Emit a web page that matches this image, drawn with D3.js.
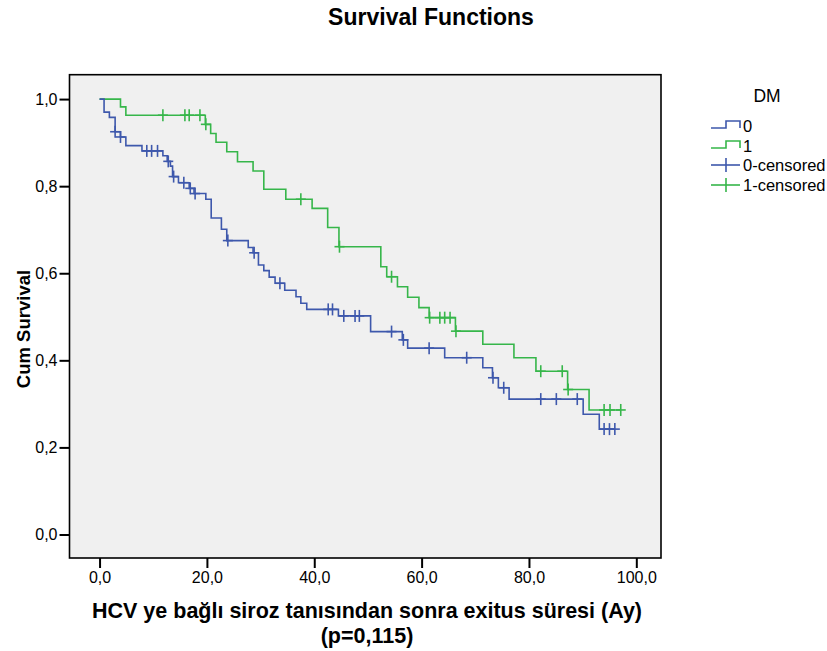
<!DOCTYPE html>
<html>
<head>
<meta charset="utf-8">
<script src="https://cdn.jsdelivr.net/npm/d3@7"></script>
<style>
  body { margin: 0; background: #fff; }
  text { font-family: Arial, "Liberation Sans", sans-serif; }
</style>
</head>
<body>
<script>
// DM = 0 : event times and survival after each event
var time0 = [0, 0.84, 1.83, 2.9, 3.9, 4.9, 7.9, 11.8, 12.6, 13.2, 13.6, 14.7, 16.7, 17.6, 19.8, 20.8, 22.7, 23.7, 27.7, 28.6, 29.6, 30.6, 31.6, 32.7, 34.5, 36.6, 37.5, 38.6, 44.5, 50.5, 56.4, 57.4, 64.3, 71.4, 73.2, 74.3, 76.3, 90.1, 93.1];
var surv0 = [1, 0.970, 0.958, 0.925, 0.913, 0.893, 0.881, 0.870, 0.857, 0.846, 0.822, 0.808, 0.795, 0.783, 0.770, 0.727, 0.701, 0.675, 0.659, 0.647, 0.619, 0.606, 0.591, 0.577, 0.561, 0.546, 0.531, 0.517, 0.502, 0.466, 0.447, 0.428, 0.406, 0.383, 0.360, 0.337, 0.311, 0.276, 0.242];
var cens0 = [2.9, 3.9, 8.8, 9.7, 10.8, 12.8, 13.8, 15.7, 16.9, 17.8, 23.9, 28.8, 33.6, 42.6, 43.4, 45.5, 47.6, 48.4, 54.4, 56.6, 61.4, 68.4, 73.3, 75.3, 82.2, 85.1, 89.0, 94.0, 95.0, 96.0];

// DM = 1
var time1 = [0, 3.9, 4.9, 19.7, 20.7, 21.7, 23.7, 25.7, 28.6, 30.6, 34.7, 39.6, 42.5, 44.6, 52.4, 53.5, 55.5, 57.4, 59.5, 61.4, 66.3, 71.4, 77.2, 81.3, 87.2, 91.2];
var surv1 = [1, 0.982, 0.963, 0.942, 0.921, 0.901, 0.879, 0.856, 0.835, 0.793, 0.770, 0.749, 0.705, 0.661, 0.615, 0.592, 0.569, 0.545, 0.521, 0.498, 0.467, 0.437, 0.406, 0.375, 0.333, 0.286];
var cens1 = [11.8, 15.9, 16.7, 18.7, 19.8, 37.5, 44.7, 54.4, 61.5, 63.4, 64.3, 65.3, 66.4, 82.2, 86.2, 87.3, 94.0, 95.1, 97.1];

var xTicks = [0, 20, 40, 60, 80, 100];
var yTicks = [0, 0.2, 0.4, 0.6, 0.8, 1.0];
var groups = ["0", "1"];
var colors = ["#3e58ac", "#36b64a"];

var W = 827, H = 651;
var svg = d3.select("body").append("svg")
    .attr("width", W)
    .attr("height", H);

var x = d3.scaleLinear().domain([-5.6, 104.6]).range([69.5, 661]);
var y = d3.scaleLinear().domain([-0.054, 1.056]).range([558, 74.7]);

var fmt = function(d){ return d.toFixed(1).replace(".", ","); };

svg.append("rect")
    .attr("x", x.range()[0]).attr("y", y.range()[1])
    .attr("width", x.range()[1] - x.range()[0])
    .attr("height", y.range()[0] - y.range()[1])
    .attr("fill", "#f0f0f0")
    .attr("stroke", "#000")
    .attr("stroke-width", 1.6);

var xAxis = svg.append("g")
    .attr("transform", "translate(0," + y.range()[0] + ")")
    .call(d3.axisBottom(x).tickValues(xTicks).tickSize(10).tickPadding(4).tickFormat(fmt));
var yAxis = svg.append("g")
    .attr("transform", "translate(" + x.range()[0] + ",0)")
    .call(d3.axisLeft(y).tickValues(yTicks).tickSize(10).tickPadding(2).tickFormat(fmt));

[xAxis, yAxis].forEach(function(a){
    a.select(".domain").remove();
    a.selectAll(".tick line").attr("stroke", "#000").attr("stroke-width", 2);
    a.selectAll(".tick text")
        .style("font-family", "Arial, 'Liberation Sans', sans-serif")
        .style("font-size", "16px")
        .attr("fill", "#000");
});

function stepAt(times, surv, t) {
    var s = surv[0];
    for (var i = 0; i < times.length; i++) if (times[i] <= t) s = surv[i];
    return s;
}

var line = d3.line()
    .curve(d3.curveStepAfter)
    .x(function(d){ return x(d[0]); })
    .y(function(d){ return y(d[1]); });

var series = [
    {times: time0, surv: surv0, cens: cens0},
    {times: time1, surv: surv1, cens: cens1}
];

// green first so blue sits on top where they share the start
[1, 0].forEach(function(k){
    var s = series[k];
    var pts = s.times.map(function(t, i){ return [t, s.surv[i]]; });
    var tEnd = d3.max(s.cens);
    pts.push([tEnd, s.surv[s.surv.length - 1]]);
    svg.append("path")
        .attr("d", line(pts))
        .attr("fill", "none")
        .attr("stroke", colors[k])
        .attr("stroke-width", 1.6);

    var g = svg.append("g").attr("stroke", colors[k]).attr("stroke-width", 1.6);
    s.cens.forEach(function(t){
        var cx = x(t), cy = y(stepAt(s.times, s.surv, t));
        g.append("line").attr("x1", cx - 5).attr("x2", cx + 5).attr("y1", cy).attr("y2", cy);
        g.append("line").attr("x1", cx).attr("x2", cx).attr("y1", cy - 6).attr("y2", cy + 6);
    });
});

// titles
svg.append("text")
    .attr("x", 431).attr("y", 25)
    .attr("text-anchor", "middle")
    .style("font-size", "23px").style("font-weight", "bold")
    .text("Survival Functions");

svg.append("text")
    .attr("transform", "translate(30,329) rotate(-90)")
    .attr("text-anchor", "middle")
    .style("font-size", "18.5px").style("font-weight", "bold")
    .text("Cum Survival");

svg.append("text")
    .attr("x", 367).attr("y", 618)
    .attr("text-anchor", "middle")
    .style("font-size", "21.5px").style("font-weight", "bold")
    .text("HCV ye bağlı siroz tanısından sonra exitus süresi (Ay)");
svg.append("text")
    .attr("x", 367).attr("y", 643)
    .attr("text-anchor", "middle")
    .style("font-size", "21.5px").style("font-weight", "bold")
    .text("(p=0,115)");

// legend
var leg = svg.append("g");
leg.append("text")
    .attr("x", 767).attr("y", 102)
    .attr("text-anchor", "middle")
    .style("font-size", "17.5px")
    .text("DM");

var legRows = [
    {label: groups[0], k: 0, type: "step", yy: 126},
    {label: groups[1], k: 1, type: "step", yy: 146},
    {label: groups[0] + "-censored", k: 0, type: "cens", yy: 165},
    {label: groups[1] + "-censored", k: 1, type: "cens", yy: 185}
];
legRows.forEach(function(r){
    if (r.type === "step") {
        leg.append("path")
            .attr("d", "M711," + (r.yy + 2) + "H726V" + (r.yy - 5) + "H740V" + (r.yy + 2))
            .attr("fill", "none").attr("stroke", colors[r.k]).attr("stroke-width", 1.6);
    } else {
        leg.append("line").attr("x1", 711).attr("x2", 740).attr("y1", r.yy).attr("y2", r.yy)
            .attr("stroke", colors[r.k]).attr("stroke-width", 1.6);
        leg.append("line").attr("x1", 726).attr("x2", 726).attr("y1", r.yy - 7).attr("y2", r.yy + 7)
            .attr("stroke", colors[r.k]).attr("stroke-width", 1.6);
    }
    leg.append("text")
        .attr("x", 743).attr("y", r.yy + 5.5)
        .style("font-size", "16.5px")
        .text(r.label);
});
</script>
</body>
</html>
